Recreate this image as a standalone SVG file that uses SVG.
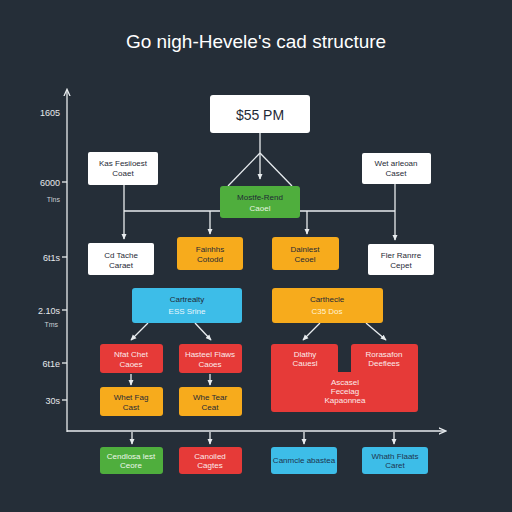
<svg xmlns="http://www.w3.org/2000/svg" width="512" height="512" viewBox="0 0 512 512">
<defs>
<marker id="ah" viewBox="0 0 10 10" refX="8" refY="5" markerWidth="5" markerHeight="5" orient="auto"><path d="M0,1 L9,5 L0,9 Z" fill="#e8ecef"/></marker>
<marker id="ax" viewBox="0 0 10 10" refX="8" refY="5" markerWidth="6" markerHeight="6" orient="auto"><path d="M0,1 L9,5 L0,9" fill="none" stroke="#e8ecef" stroke-width="1.6"/></marker>
</defs>
<style>
.t{font-family:"Liberation Sans",Arial,sans-serif;text-anchor:middle}
.ax{font-family:"Liberation Sans",Arial,sans-serif;text-anchor:end;fill:#e6e9ec;font-size:9px}
.axs{font-family:"Liberation Sans",Arial,sans-serif;text-anchor:end;fill:#c9ced3;font-size:7px}
.l{stroke:#e8ecef;stroke-width:1.3;fill:none}
.w{fill:#ffffff}
.g{fill:#4fae3d}
.o{fill:#f7ab1c}
.r{fill:#e63a38}
.b{fill:#3dbde8}
.dk{fill:#1f2a36;font-size:8px}
.lt{fill:#fbeaea;font-size:8px}
</style>
<rect width="512" height="512" fill="#252e38"/>
<text class="t" x="256" y="48" font-size="19" fill="#ffffff">Go nigh-Hevele's cad structure</text>

<g id="axes">
<line class="l" x1="67" y1="432" x2="67" y2="90" marker-end="url(#ax)"/>
<line class="l" x1="67" y1="431" x2="445" y2="431" marker-end="url(#ax)"/>
<line class="l" x1="62" y1="182" x2="67" y2="182"/>
<line class="l" x1="62" y1="257" x2="67" y2="257"/>
<line class="l" x1="62" y1="310" x2="67" y2="310"/>
<line class="l" x1="62" y1="363" x2="67" y2="363"/>
<line class="l" x1="62" y1="400" x2="67" y2="400"/>
<text class="ax" x="60" y="116">1605</text>
<text class="ax" x="60" y="186">6000</text>
<text class="axs" x="60" y="202">Tlns</text>
<text class="ax" x="60" y="261">6t1s</text>
<text class="ax" x="60" y="314">2.10s</text>
<text class="axs" x="58" y="327">Tms</text>
<text class="ax" x="60" y="367">6t1e</text>
<text class="ax" x="60" y="404">30s</text>
</g>

<g id="connectors">
<line class="l" x1="260" y1="133" x2="260" y2="153"/>
<line class="l" x1="260" y1="153" x2="260" y2="179" marker-end="url(#ah)"/>
<line class="l" x1="260" y1="153" x2="228" y2="186"/>
<line class="l" x1="260" y1="153" x2="292" y2="186"/>
<line class="l" x1="124" y1="211" x2="395" y2="211"/>
<line class="l" x1="124" y1="185" x2="124" y2="239" marker-end="url(#ah)"/>
<line class="l" x1="395" y1="184" x2="395" y2="240" marker-end="url(#ah)"/>
<line class="l" x1="210" y1="211" x2="210" y2="234" marker-end="url(#ah)"/>
<line class="l" x1="307" y1="211" x2="307" y2="234" marker-end="url(#ah)"/>
<line class="l" x1="148" y1="323" x2="131" y2="340" marker-end="url(#ah)"/>
<line class="l" x1="195" y1="323" x2="211" y2="340" marker-end="url(#ah)"/>
<line class="l" x1="320" y1="323" x2="303" y2="340" marker-end="url(#ah)"/>
<line class="l" x1="366" y1="323" x2="386" y2="340" marker-end="url(#ah)"/>
<line class="l" x1="131" y1="374" x2="131" y2="385" marker-end="url(#ah)"/>
<line class="l" x1="210" y1="374" x2="210" y2="385" marker-end="url(#ah)"/>
<line class="l" x1="132" y1="432" x2="132" y2="444" marker-end="url(#ah)"/>
<line class="l" x1="210" y1="432" x2="210" y2="444" marker-end="url(#ah)"/>
<line class="l" x1="304" y1="432" x2="304" y2="444" marker-end="url(#ah)"/>
<line class="l" x1="394" y1="432" x2="394" y2="444" marker-end="url(#ah)"/>
</g>

<g id="n-top"><rect class="w" x="210" y="95" width="100" height="38" rx="3"/><text class="t" x="260" y="120" font-size="14" fill="#1f2a36">$55 PM</text></g>
<g id="n-green"><rect class="g" x="220" y="186" width="80" height="32" rx="3"/><text class="t dk" x="260" y="200">Mostfe-Rend</text><text class="t" x="260" y="211" font-size="8" fill="#e6f5e0">Caoel</text></g>
<g id="n-kas"><rect class="w" x="88" y="152" width="70" height="33" rx="2"/><text class="t dk" x="123" y="166">Kas Fesiioest</text><text class="t dk" x="123" y="176">Coaet</text></g>
<g id="n-wet"><rect class="w" x="362" y="153" width="69" height="31" rx="2"/><text class="t dk" x="396" y="166">Wet arleoan</text><text class="t dk" x="396" y="176">Caset</text></g>

<g id="n-cd"><rect class="w" x="88" y="243" width="66" height="32" rx="2"/><text class="t dk" x="121" y="258">Cd Tache</text><text class="t dk" x="121" y="268">Caraet</text></g>
<g id="n-fain"><rect class="o" x="177" y="237" width="66" height="33" rx="3"/><text class="t dk" x="210" y="252">Fainhhs</text><text class="t dk" x="210" y="262">Cotodd</text></g>
<g id="n-dain"><rect class="o" x="272" y="237" width="67" height="33" rx="3"/><text class="t dk" x="305" y="252">Dainlest</text><text class="t dk" x="305" y="262">Ceoel</text></g>
<g id="n-fler"><rect class="w" x="368" y="244" width="66" height="31" rx="2"/><text class="t dk" x="401" y="258">Fler Ranrre</text><text class="t dk" x="401" y="268">Cepet</text></g>

<g id="n-cart"><rect class="b" x="132" y="288" width="110" height="35" rx="3"/><text class="t dk" x="187" y="302" fill="#1e3550">Cartrealty</text><text class="t" x="187" y="314" font-size="8" fill="#e9f7fd">ESS Srine</text></g>
<g id="n-carth"><rect class="o" x="272" y="288" width="111" height="35" rx="3"/><text class="t dk" x="327" y="302">Carthecle</text><text class="t" x="327" y="314" font-size="8" fill="#fff3d6">C35 Dos</text></g>

<g id="n-nfat"><rect class="r" x="100" y="344" width="63" height="29" rx="3"/><text class="t lt" x="131" y="357">Nfat Chet</text><text class="t lt" x="131" y="367">Caoes</text></g>
<g id="n-hast"><rect class="r" x="179" y="344" width="63" height="29" rx="3"/><text class="t lt" x="210" y="357">Hasteel Flaws</text><text class="t lt" x="210" y="367">Caoes</text></g>
<g id="n-big"><path class="r" d="M274,344 H335 Q338,344 338,347 V372 H351 V347 Q351,344 354,344 H415 Q418,344 418,347 V409 Q418,412 415,412 H274 Q271,412 271,409 V347 Q271,344 274,344 Z"/>
<text class="t lt" x="305" y="357">Dlathy</text><text class="t lt" x="305" y="366">Cauesl</text>
<text class="t lt" x="384" y="357">Rorasafon</text><text class="t lt" x="384" y="366">Deeflees</text>
<text class="t lt" x="345" y="385">Ascasel</text><text class="t lt" x="345" y="394">Fecelag</text><text class="t lt" x="345" y="403">Kapaonnea</text></g>

<g id="n-whet"><rect class="o" x="100" y="387" width="63" height="29" rx="3"/><text class="t dk" x="131" y="400">Whet Fag</text><text class="t dk" x="131" y="410">Cast</text></g>
<g id="n-whe"><rect class="o" x="179" y="387" width="63" height="29" rx="3"/><text class="t dk" x="210" y="400">Whe Tear</text><text class="t dk" x="210" y="410">Ceat</text></g>

<g id="n-cend"><rect class="g" x="100" y="447" width="63" height="27" rx="3"/><text class="t" x="131" y="459" font-size="8" fill="#eef8ea">Cendlosa lest</text><text class="t" x="131" y="468" font-size="8" fill="#eef8ea">Ceore</text></g>
<g id="n-cano"><rect class="r" x="179" y="447" width="63" height="27" rx="3"/><text class="t lt" x="210" y="459">Canoiled</text><text class="t lt" x="210" y="468">Cagtes</text></g>
<g id="n-canm"><rect class="b" x="271" y="447" width="66" height="27" rx="3"/><text class="t" x="304" y="463" font-size="8" fill="#1e3550">Canmcle abastea</text></g>
<g id="n-whath"><rect class="b" x="362" y="447" width="66" height="27" rx="3"/><text class="t" x="395" y="459" font-size="8" fill="#1e3550">Whath Flaats</text><text class="t" x="395" y="468" font-size="8" fill="#1e3550">Caret</text></g>
</svg>
